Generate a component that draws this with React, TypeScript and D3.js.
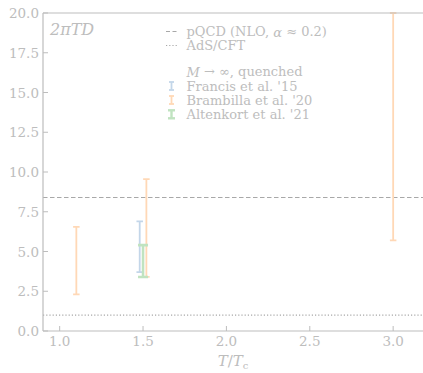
import React from "react";
import * as d3 from "d3";

// Heavy-quark spatial diffusion coefficient 2πTD vs T/Tc
const xTicks = [1.0, 1.5, 2.0, 2.5, 3.0];
const yTicks = [0.0, 2.5, 5.0, 7.5, 10.0, 12.5, 15.0, 17.5, 20.0];

// Lattice results (quenched, M → ∞): temperature and [low, high] band
const francisT = [1.48];
const francisLo = [3.7];
const francisHi = [6.9];

const brambillaT = [1.1, 1.52, 3.0];
const brambillaLo = [2.3, 3.4, 5.7];
const brambillaHi = [6.55, 9.55, 20.0];

const altenkortT = [1.5];
const altenkortLo = [3.4];
const altenkortHi = [5.4];

const pqcdValue = 8.4;
const adsCftValue = 1.0;

const W = 423;
const H = 373;
const left = 43;
const top = 13;
const bottom = 331;
const right = 426.5;

const FONT = "'DejaVu Serif', 'Liberation Serif', serif";
const TEXT = "#bdbdbd";
const SPINE = "#bdbdbd";
const BLUE = "#c3d6e9";
const ORANGE = "#ffd8b6";
const GREEN = "#c0e3c0";

type Band = { t: number; lo: number; hi: number };
const zipBands = (t: number[], lo: number[], hi: number[]): Band[] =>
  t.map((v, i) => ({ t: v, lo: lo[i], hi: hi[i] }));

export default function App() {
  const x = d3.scaleLinear().domain([0.9, 3.2]).range([left, right]);
  const y = d3.scaleLinear().domain([0, 20]).range([bottom, top]);

  const errorBars = (
    data: Band[],
    color: string,
    width: number,
    cap: number,
    key: string
  ) =>
    data.map((d, i) => {
      const cx = x(d.t);
      return (
        <g key={`${key}${i}`} stroke={color} strokeWidth={width}>
          <line x1={cx} x2={cx} y1={y(d.lo)} y2={y(d.hi)} />
          <line x1={cx - cap / 2} x2={cx + cap / 2} y1={y(d.lo)} y2={y(d.lo)} />
          <line x1={cx - cap / 2} x2={cx + cap / 2} y1={y(d.hi)} y2={y(d.hi)} />
        </g>
      );
    });

  const legendHandle = (cx: number, cy: number, color: string, w: number, cap: number) => (
    <g stroke={color} strokeWidth={w}>
      <line x1={cx} x2={cx} y1={cy - 4} y2={cy + 4} />
      <line x1={cx - cap / 2} x2={cx + cap / 2} y1={cy - 4} y2={cy - 4} />
      <line x1={cx - cap / 2} x2={cx + cap / 2} y1={cy + 4} y2={cy + 4} />
    </g>
  );

  const legX = 186.5;
  const hx = 171.5;

  return (
    <svg
      width={W}
      height={H}
      style={{ position: "absolute", left: 0, top: 0, background: "#fff" }}
      fontFamily={FONT}
    >
      <defs>
        <clipPath id="plot">
          <rect x={left} y={top - 2} width={right - left} height={bottom - top + 2} />
        </clipPath>
      </defs>

      {/* reference lines */}
      <line
        x1={left}
        x2={right}
        y1={y(pqcdValue)}
        y2={y(pqcdValue)}
        stroke="#a8a8a8"
        strokeWidth={1.1}
        strokeDasharray="4.5,2.5"
      />
      <line
        x1={left}
        x2={right}
        y1={y(adsCftValue)}
        y2={y(adsCftValue)}
        stroke="#a8a8a8"
        strokeWidth={1.1}
        strokeDasharray="1.2,2"
      />

      <g clipPath="url(#plot)">
        {errorBars(zipBands(brambillaT, brambillaLo, brambillaHi), ORANGE, 1.8, 6.5, "b")}
        {errorBars(zipBands(francisT, francisLo, francisHi), BLUE, 1.8, 6.5, "f")}
        {errorBars(zipBands(altenkortT, altenkortLo, altenkortHi), GREEN, 2.6, 10, "a")}
      </g>

      {/* spines */}
      <line x1={left} x2={left} y1={top} y2={bottom} stroke={SPINE} strokeWidth={1.2} />
      <line x1={left} x2={right} y1={bottom} y2={bottom} stroke={SPINE} strokeWidth={1.2} />
      <line x1={left} x2={right} y1={top} y2={top} stroke={SPINE} strokeWidth={1.2} />
      <line x1={right} x2={right} y1={top} y2={bottom} stroke={SPINE} strokeWidth={1.2} />

      {/* y axis */}
      {yTicks.map((t) => (
        <g key={`y${t}`}>
          <line x1={left} x2={left + 5} y1={y(t)} y2={y(t)} stroke={SPINE} strokeWidth={1} />
          <text
            x={left - 4}
            y={y(t)}
            textAnchor="end"
            dominantBaseline="central"
            fontSize={13.5}
            fill={TEXT}
          >
            {t.toFixed(1)}
          </text>
        </g>
      ))}

      {/* x axis */}
      {xTicks.map((t) => (
        <g key={`x${t}`}>
          <line x1={x(t)} x2={x(t)} y1={bottom} y2={bottom - 5} stroke={SPINE} strokeWidth={1} />
          <text
            x={x(t)}
            y={bottom + 5}
            textAnchor="middle"
            dominantBaseline="hanging"
            fontSize={13.5}
            fill={TEXT}
          >
            {t.toFixed(1)}
          </text>
        </g>
      ))}

      <text x={233} y={366} textAnchor="middle" fontSize={15} fill={TEXT}>
        <tspan fontStyle="italic">T</tspan>
        <tspan>/</tspan>
        <tspan fontStyle="italic">T</tspan>
        <tspan fontSize={10} dy={3}>c</tspan>
      </text>

      <text x={50} y={34.5} fontSize={16} fill={TEXT} fontStyle="italic">
        2πTD
      </text>

      {/* legend */}
      <g fontSize={13} fill={TEXT}>
        <line x1={166} x2={177} y1={31.5} y2={31.5} stroke="#a8a8a8" strokeWidth={1.1} strokeDasharray="4,2.5" />
        <text x={legX} y={31.5} dominantBaseline="central">
          pQCD (NLO, <tspan fontStyle="italic">α</tspan> ≈ 0.2)
        </text>
        <line x1={166} x2={177} y1={45.5} y2={45.5} stroke="#a8a8a8" strokeWidth={1.1} strokeDasharray="1.2,2" />
        <text x={legX} y={45.5} dominantBaseline="central">
          AdS/CFT
        </text>
        <text x={legX} y={71.5} dominantBaseline="central">
          <tspan fontStyle="italic">M</tspan> → ∞, quenched
        </text>
        {legendHandle(hx, 86, BLUE, 1.8, 5)}
        <text x={legX} y={86} dominantBaseline="central">
          Francis et al. '15
        </text>
        {legendHandle(hx, 100, ORANGE, 1.8, 5)}
        <text x={legX} y={100} dominantBaseline="central">
          Brambilla et al. '20
        </text>
        {legendHandle(hx, 114.3, GREEN, 2.4, 7)}
        <text x={legX} y={114.3} dominantBaseline="central">
          Altenkort et al. '21
        </text>
      </g>
    </svg>
  );
}
